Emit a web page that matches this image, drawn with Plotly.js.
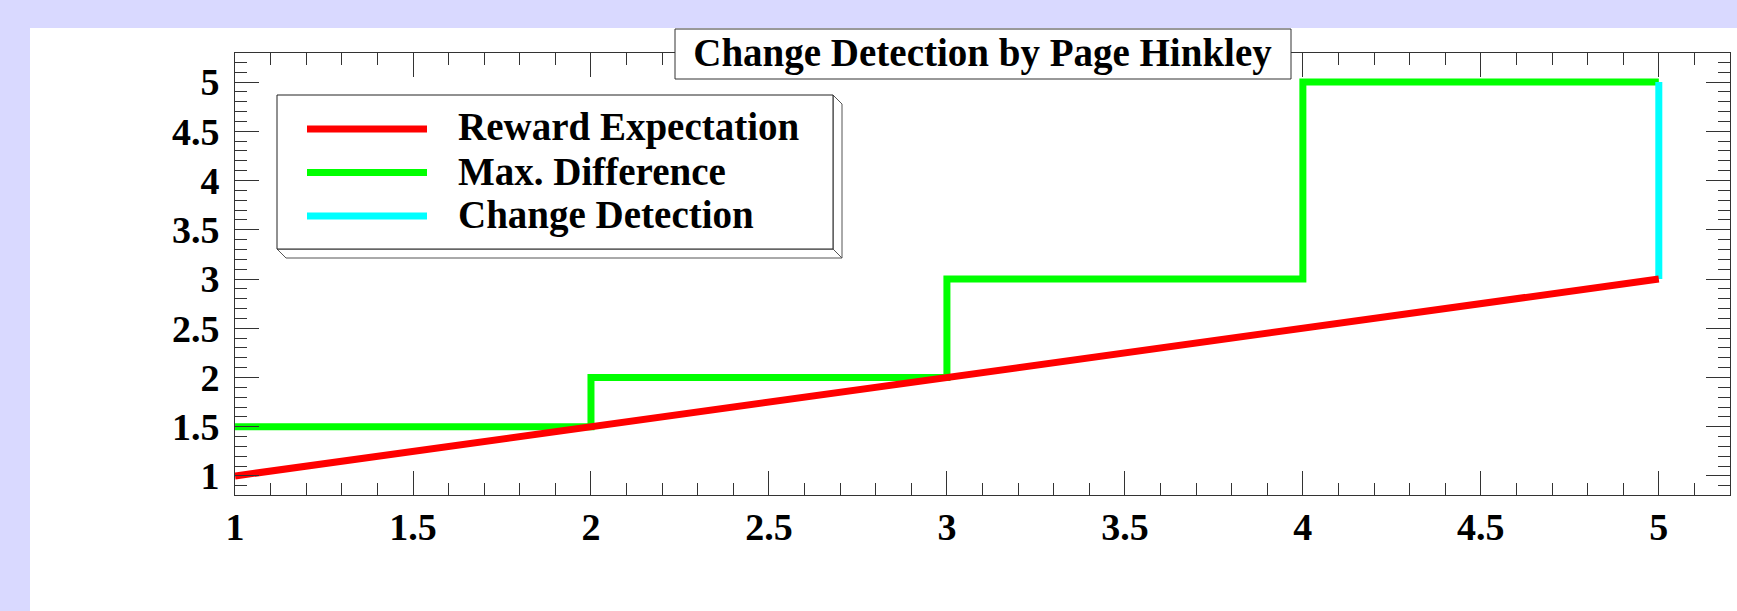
<!DOCTYPE html>
<html>
<head>
<meta charset="utf-8">
<script src="https://cdn.plot.ly/plotly-3.0.1.min.js"></script>
<style>
  html, body { margin: 0; padding: 0; background: #d9d9ff; }
  #chart { width: 1737px; height: 611px; }
</style>
</head>
<body>
<div id="chart"></div>
<script>
// ---- data ----
const chartTitle = "Change Detection by Page Hinkley";
const seriesNames = ["Reward Expectation", "Max. Difference", "Change Detection"];
const seriesColors = ["#ff0000", "#00ff00", "#00ffff"];
const xVals = [1, 2, 3, 4, 5];
const rewardExpectation = [1, 1.5, 2, 2.5, 3];
const maxDifference = [1.5, 2, 3, 5, 5];
const changeX = [5, 5];
const changeY = [3, 5];

// ---- layout geometry (pixels) ----
const W = 1737, H = 611;
const L = 235, R = 1730, T = 53, B = 495;
function px(x) { return (x - L) / (R - L); }
function py(y) { return (B - y) / (B - T); }

const serif = "Liberation Serif, Times New Roman, serif";
const frameColor = "#333";

const traces = [
  { x: xVals, y: maxDifference, name: seriesNames[1], mode: "lines",
    line: { color: seriesColors[1], width: 7, shape: "hv" } },
  { x: changeX, y: changeY, name: seriesNames[2], mode: "lines",
    line: { color: seriesColors[2], width: 7 } },
  { x: xVals, y: rewardExpectation, name: seriesNames[0], mode: "lines",
    line: { color: seriesColors[0], width: 7 } }
];

const tickFont = { family: serif, size: 38, color: "black", weight: "bold" };

function axisBase(range) {
  return {
    range: range, tick0: 0, dtick: 0.5,
    ticks: "inside", ticklen: 24, tickwidth: 1, tickcolor: frameColor,
    showline: true, linecolor: frameColor, linewidth: 1, mirror: "ticks",
    showgrid: false, zeroline: false, fixedrange: true,
    tickfont: tickFont,
    minor: { tick0: 0, dtick: 0.1, ticks: "inside", ticklen: 12, tickwidth: 1, tickcolor: frameColor, showgrid: false }
  };
}

const xaxis = axisBase([0.9999, 5.2]);
xaxis.ticklabelstandoff = -2;
const yaxis = axisBase([0.807, 5.295]);
yaxis.ticklabelstandoff = 7;

// legend geometry
const lgL = 277, lgR = 833, lgT = 95, lgB = 249, bev = 9;
const rowY = [129, 172.5, 216];
const sampleX0 = 307, sampleX1 = 427, textX = 456;

function pathOf(pts) {
  return "M" + pts.map(p => px(p[0]) + "," + py(p[1])).join("L") + "Z";
}

const shapes = [
  // white pad area
  { type: "rect", xref: "paper", yref: "paper", layer: "below",
    x0: px(30), x1: px(W + 10), y0: py(H + 10), y1: py(28),
    fillcolor: "white", line: { width: 0 } },
  // title box
  { type: "rect", xref: "paper", yref: "paper", layer: "above",
    x0: px(675), x1: px(1291), y0: py(79), y1: py(29),
    fillcolor: "white", line: { color: frameColor, width: 1 } },
  // legend bevels
  { type: "path", xref: "paper", yref: "paper", layer: "above",
    path: pathOf([[lgL, lgB], [lgL + bev, lgB + bev], [lgR + bev, lgB + bev], [lgR, lgB]]),
    fillcolor: "white", line: { color: "#555", width: 1 } },
  { type: "path", xref: "paper", yref: "paper", layer: "above",
    path: pathOf([[lgR, lgT], [lgR + bev, lgT + bev], [lgR + bev, lgB + bev], [lgR, lgB]]),
    fillcolor: "white", line: { color: "#555", width: 1 } },
  // legend face
  { type: "rect", xref: "paper", yref: "paper", layer: "above",
    x0: px(lgL), x1: px(lgR), y0: py(lgB), y1: py(lgT),
    fillcolor: "white", line: { color: "#222", width: 1 } }
];

const legendOrder = [0, 1, 2];
const annotations = [];
legendOrder.forEach((k, i) => {
  shapes.push({ type: "line", xref: "paper", yref: "paper", layer: "above",
    x0: px(sampleX0), x1: px(sampleX1), y0: py(rowY[i]), y1: py(rowY[i]),
    line: { color: seriesColors[k], width: 7 } });
  annotations.push({ xref: "paper", yref: "paper", x: px(textX), y: py(rowY[i] - 1.5),
    xanchor: "left", yanchor: "middle", showarrow: false, text: seriesNames[k],
    font: { family: serif, size: 39, color: "black", weight: "bold" } });
});

const layout = {
  width: W, height: H,
  margin: { l: L, r: W - R, t: T, b: H - B, pad: 0 },
  paper_bgcolor: "#d9d9ff",
  plot_bgcolor: "white",
  showlegend: false,
  title: {
    text: chartTitle,
    font: { family: serif, size: 39, color: "black", weight: "bold" },
    xref: "paper", x: 0.5, xanchor: "center",
    yref: "container", y: 1 - 52 / H, yanchor: "middle"
  },
  xaxis: xaxis,
  yaxis: yaxis,
  shapes: shapes,
  annotations: annotations
};

Plotly.newPlot("chart", traces, layout, { displayModeBar: false, staticPlot: true });
</script>
</body>
</html>
